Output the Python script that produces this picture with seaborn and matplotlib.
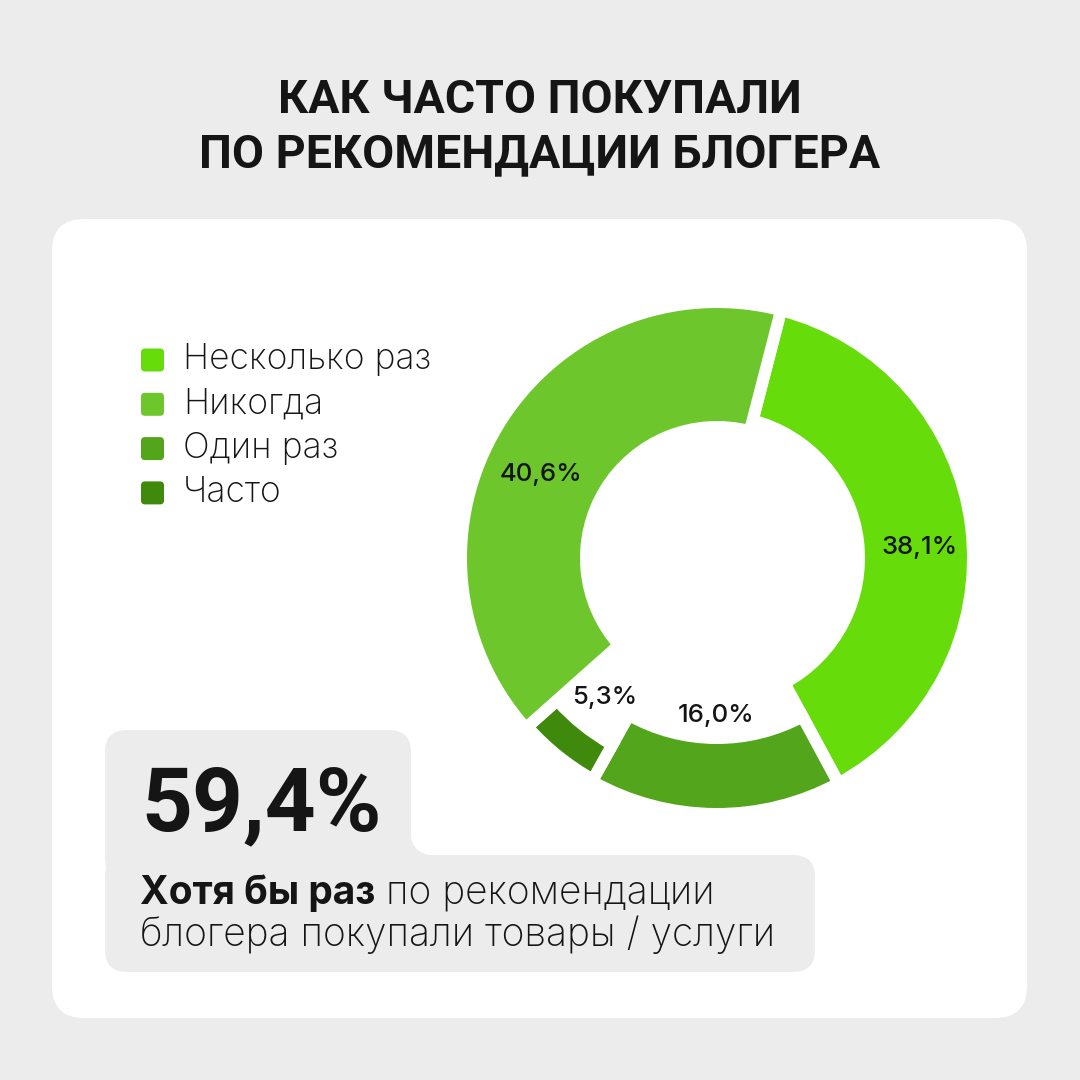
import numpy as np
import pandas as pd
import seaborn as sns
import matplotlib.pyplot as plt
from matplotlib.patches import FancyBboxPatch, Rectangle, Circle

sns.set_theme(style='white')
plt.rcParams['font.family'] = ['Inter', 'DejaVu Sans']
head_font = ['Roboto', 'DejaVu Sans']

# data
title_lines = ['КАК ЧАСТО ПОКУПАЛИ', 'ПО РЕКОМЕНДАЦИИ БЛОГЕРА']
legend_labels = ['Несколько раз', 'Никогда', 'Один раз', 'Часто']
legend_colors = ['#66dc0b', '#6dc72c', '#53a51c', '#3f890c']

# slices in clockwise order from the top
pie_labels = ['Несколько раз', 'Один раз', 'Часто', 'Никогда']
pie_values = [38.1, 16.0, 5.3, 40.6]
pct_text = ['38,1%', '16,0%', '5,3%', '40,6%']

big_number = '59,4%'
note_bold = 'Хотя бы раз'
note_rest = ' по рекомендации'
note_line2 = 'блогера покупали товары / услуги'

# styles (pixels / degrees)
ring_px = [102, 64, 28, 113]
outer_px = [250, 250, 248, 250]
label_r_px = [203, 158, 179, 195]
label_shift = [-4, 0, 0, 6]
px = 250
gap = 12
text_col = '#151515'
bg_col = '#ececec'

fig = plt.figure(figsize=(10.8, 10.8), dpi=100, facecolor=bg_col)

bg = fig.add_axes([0, 0, 1, 1])
bg.set_xlim(0, 1080)
bg.set_ylim(1080, 0)
bg.axis('off')

# white card
bg.add_patch(FancyBboxPatch((52, 219), 975, 799, boxstyle='round,pad=0,rounding_size=32',
                            fc='white', ec='none'))

# title
for y, line in zip([100, 154], title_lines):
    bg.text(540, y, line, ha='center', va='center', fontsize=33.5, fontweight='bold',
            color=text_col, family=head_font)

# legend
for i, (lab, col) in enumerate(zip(legend_labels, legend_colors)):
    y = 360 + i * 44.3
    bg.add_patch(FancyBboxPatch((141, y - 11.5), 23, 23, boxstyle='round,pad=0,rounding_size=4',
                                fc=col, ec='none'))
    bg.text(183, y, lab, ha='left', va='center', fontsize=25.5, fontweight='light', color=text_col)

# grey info box
bg.add_patch(FancyBboxPatch((105, 730), 306, 150, boxstyle='round,pad=0,rounding_size=22',
                            fc=bg_col, ec='none'))
bg.add_patch(FancyBboxPatch((105, 855), 710, 117, boxstyle='round,pad=0,rounding_size=22',
                            fc=bg_col, ec='none'))
bg.add_patch(Rectangle((405, 835), 26, 21, fc=bg_col, ec='none'))
bg.add_patch(Circle((431, 835), 20, fc='white', ec='none'))

bg.text(141, 806, big_number, ha='left', va='center', fontsize=64, fontweight='bold',
        color=text_col, family=head_font)

t_bold = bg.text(140, 893, note_bold, ha='left', va='center', fontsize=28, fontweight='bold', color=text_col)
fig.canvas.draw()
bb = t_bold.get_window_extent().transformed(bg.transData.inverted())
bg.text(bb.x1, 893, note_rest, ha='left', va='center', fontsize=28, fontweight='light', color=text_col)
bg.text(140, 935, note_line2, ha='left', va='center', fontsize=28, fontweight='light', color=text_col)

# donut
ax = fig.add_axes([(717 - 275) / 1080, (1080 - 558 - 275) / 1080, 550 / 1080, 550 / 1080])
color_map = dict(zip(legend_labels, legend_colors))
wedges, _ = ax.pie(pie_values, colors=[color_map[l] for l in pie_labels], startangle=75.5,
                   counterclock=False, radius=1,
                   wedgeprops=dict(edgecolor='white', linewidth=gap / 1.389))
for w, thick, outer in zip(wedges, ring_px, outer_px):
    w.set_radius((outer + gap / 2) / px)
    w.set_width((thick + gap) / px)

for w, txt, r, sh in zip(wedges, pct_text, label_r_px, label_shift):
    mid = np.deg2rad((w.theta1 + w.theta2) / 2 + sh)
    ax.text(r / px * np.cos(mid), r / px * np.sin(mid), txt, ha='center', va='center',
            fontsize=18.5, fontweight='medium', color=text_col)

ax.set_xlim(-1.1, 1.1)
ax.set_ylim(-1.1, 1.1)
ax.set_aspect('equal')
ax.axis('off')

fig.savefig('out.png', dpi=100, facecolor=bg_col)
